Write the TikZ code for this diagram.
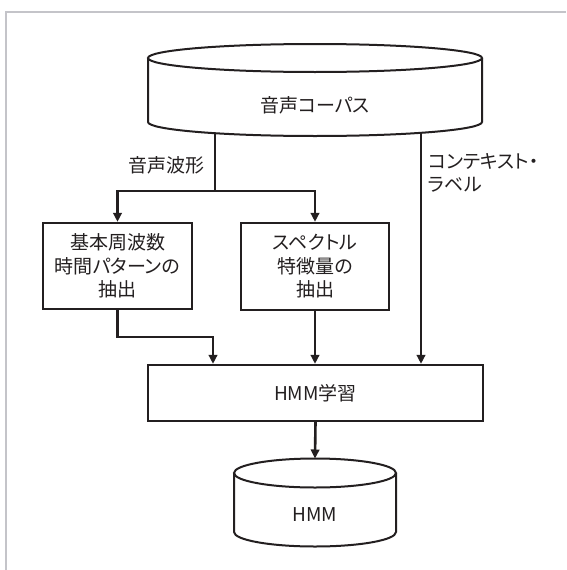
\documentclass[tikz,border=0pt]{standalone}
\usepackage{fontspec}
\setmainfont{Noto Sans CJK JP}[CharacterWidth=AlternateProportional]
\usetikzlibrary{arrows.meta}
\definecolor{ink}{RGB}{35,31,32}
\definecolor{framecol}{RGB}{196,196,201}
\tikzset{
  boxnode/.style={draw=ink, line width=2.3pt, fill=white, align=center, inner sep=0pt},
  cylline/.style={draw=ink, line width=2pt},
  conn/.style={draw=ink, line width=2.6pt},
  arr/.style={conn, -{Triangle[length=9pt,width=8.5pt]}},
  txt/.style={text=ink, font=\fontsize{19}{23.5}\selectfont}
}
\begin{document}
\begin{tikzpicture}[x=1pt,y=-1pt]
\useasboundingbox (0,0) rectangle (566,570);
% frame
\draw[framecol, line width=2pt] (6,570) -- (6,12) -- (566,12);

% top cylinder (音声コーパス)
\draw[cylline, fill=white] (148,58) -- (148,122)
  arc[start angle=180, end angle=360, x radius=167pt, y radius=14pt] -- (482,58);
\draw[cylline] (315,58) ellipse[x radius=167pt, y radius=14pt];
\node[txt] (corpus) at (315,105) {音声コーパス};
\coordinate (wave) at (215,133);
\coordinate (ctx) at (421,133);

% boxes
\node[boxnode, txt, minimum width=149pt, minimum height=86pt] (f0) at (117.5,266) {基本周波数\\時間パターンの\\抽出};
\node[boxnode, txt, minimum width=148pt, minimum height=87pt] (spec) at (315,266.5) {スペクトル\\特徴量の\\抽出};
\node[boxnode, txt, minimum width=335pt, minimum height=56pt] (hmmtrain) at (315.5,393) {HMM学習};

% bottom cylinder (HMM)
\draw[cylline, fill=white] (234,473) -- (234,532)
  arc[start angle=180, end angle=360, x radius=81pt, y radius=14.5pt] -- (396,473);
\draw[cylline] (315,473) ellipse[x radius=81pt, y radius=14.5pt];
\node[txt] (hmm) at (315,515) {HMM};
\coordinate (hmmtop) at (315,458.5);

% branch point
\coordinate (split) at (215,191);
\coordinate (join) at (117.5,337);

% connectors
\draw[conn] (wave) -- (split);
\draw[arr] (split) -| (f0.north);
\draw[arr] (split) -| (spec.north);
\draw[arr] (f0.south) -- (join) -| ([xshift=-102.5pt]hmmtrain.north);
\draw[arr] (spec.south) -- (spec.south |- hmmtrain.north);
\draw[arr] (ctx) -- (ctx |- hmmtrain.north);
\draw[arr] (hmmtrain.south) -- (hmmtop);

% labels
\node[txt, anchor=east, inner sep=0pt] (wavelbl) at (205,165) {音声波形};
\node[txt, anchor=north west, align=left, inner sep=0pt] (ctxlbl) at (428,153) {コンテキスト・\\ラベル};
\end{tikzpicture}
\end{document}
